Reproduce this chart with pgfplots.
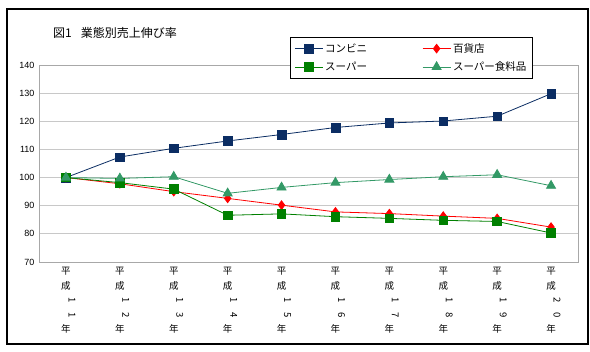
\documentclass[border=0pt]{standalone}
\usepackage{fontspec}
\setmainfont{Liberation Sans}
\newfontfamily\cjk{Noto Sans CJK JP}
\usepackage{graphicx}
\usepackage{pgfplots}
\pgfplotsset{compat=1.18}
\definecolor{cnavy}{HTML}{0B2D63}
\definecolor{cred}{HTML}{FF0000}
\definecolor{cgreen}{HTML}{008000}
\definecolor{csea}{HTML}{339966}
\definecolor{cgrid}{HTML}{C8C8C8}
\definecolor{caxis}{HTML}{A8A8A8}
\newcommand{\rd}[1]{\hspace*{12pt}\rotatebox[origin=c]{-90}{#1}}
\newcommand{\lab}[2]{平\\成\\\rd{#1}\\\rd{#2}\\年}
\begin{document}
\begin{tikzpicture}
\useasboundingbox (0,0) rectangle (590pt,352pt);
\draw[line width=1.2pt] (7pt,8pt) rectangle (588pt,343pt);
\node[anchor=west, inner sep=0pt, font=\cjk\fontsize{12}{14}\selectfont] at (53pt,319pt) {図1\hspace{0.75em}業態別売上伸び率};
\begin{axis}[
  at={(39pt,90pt)}, anchor=south west,
  scale only axis, width=539pt, height=197pt,
  xmin=-0.5, xmax=9.5, ymin=70, ymax=140,
  ytick={70,80,...,140},
  ymajorgrids, grid style={cgrid, line width=0.8pt},
  axis line style={caxis, line width=0.8pt},
  ytick style={draw=none},
  yticklabel style={font=\fontsize{9}{10}\selectfont, xshift=-1pt},
  /pgf/number format/assume math mode=true,
  xtick={0,...,9},
  xticklabels={{\lab{1}{1}},{\lab{1}{2}},{\lab{1}{3}},{\lab{1}{4}},{\lab{1}{5}},{\lab{1}{6}},{\lab{1}{7}},{\lab{1}{8}},{\lab{1}{9}},{\lab{2}{0}}},
  xtick style={draw=none},
  xticklabel style={font=\cjk\fontsize{9.5}{14.5}\selectfont, align=center, anchor=north, yshift=-2pt},
  extra x ticks={-0.5,0.5,...,9.5},
  extra x tick labels={},
  extra x tick style={tick align=outside, major tick length=4pt, tick style={caxis, line width=0.8pt, draw=caxis}},
  legend columns=2,
  legend cell align=left,
  legend image code/.code={\draw[mark repeat=2,mark phase=2,#1] plot coordinates {(0pt,0pt) (14pt,0pt) (28pt,0pt)};},
  legend style={at={(0.4657,1.142)}, anchor=north west, draw=black, line width=0.8pt,
    font=\cjk\fontsize{10.5}{12}\selectfont, row sep=4pt, inner sep=4pt,
    /tikz/every even column/.append style={column sep=53pt}},
]
\addplot[cnavy, line width=0.8pt, mark=square*, mark size=4.3pt, mark options={fill=cnavy, draw=cnavy, line width=0.4pt}]
  coordinates {(0,100) (1,107.3) (2,110.4) (3,113) (4,115.3) (5,117.8) (6,119.4) (7,120.1) (8,121.8) (9,129.8)};
\addlegendentry{コンビニ}
\addplot[cred, line width=0.8pt, mark=diamond*, mark size=4.3pt, mark options={fill=cred, draw=cred}]
  coordinates {(0,100) (1,97.8) (2,95) (3,92.6) (4,90.2) (5,87.8) (6,87.2) (7,86.3) (8,85.5) (9,82.4)};
\addlegendentry{百貨店}
\addplot[cgreen, line width=0.8pt, mark=square*, mark size=4.3pt, mark options={fill=cgreen, draw=cgreen}]
  coordinates {(0,100) (1,98.2) (2,95.9) (3,86.6) (4,87.1) (5,86.1) (6,85.5) (7,84.8) (8,84.4) (9,80.3)};
\addlegendentry{スーパー}
\addplot[csea, line width=0.8pt, mark=triangle*, mark size=5.2pt, mark options={fill=csea, draw=csea}]
  coordinates {(0,100) (1,99.7) (2,100.3) (3,94.4) (4,96.5) (5,98.2) (6,99.3) (7,100.3) (8,101) (9,97.1)};
\addlegendentry{スーパー食料品}
\end{axis}
\end{tikzpicture}
\end{document}
